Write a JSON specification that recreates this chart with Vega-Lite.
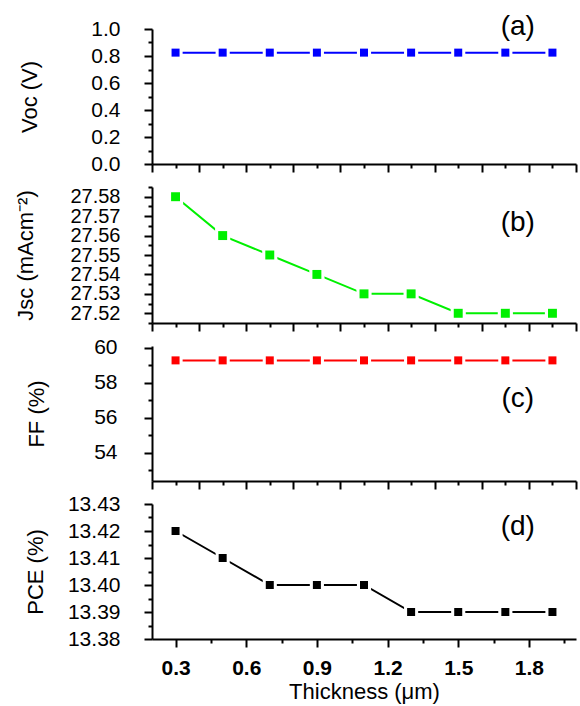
{
  "$schema": "https://vega.github.io/schema/vega-lite/v6.json",
  "padding": {"left": 14, "top": 12, "right": 2, "bottom": 3},
  "background": "white",
  "bounds": "flush",
  "datasets": {
    "main": [
      {"t": 0.3, "voc": 0.825, "jsc": 27.58, "ff": 59.28, "pce": 13.42},
      {"t": 0.5, "voc": 0.825, "jsc": 27.56, "ff": 59.28, "pce": 13.41},
      {"t": 0.7, "voc": 0.825, "jsc": 27.55, "ff": 59.28, "pce": 13.40},
      {"t": 0.9, "voc": 0.825, "jsc": 27.54, "ff": 59.28, "pce": 13.40},
      {"t": 1.1, "voc": 0.825, "jsc": 27.53, "ff": 59.28, "pce": 13.40},
      {"t": 1.3, "voc": 0.825, "jsc": 27.53, "ff": 59.28, "pce": 13.39},
      {"t": 1.5, "voc": 0.825, "jsc": 27.52, "ff": 59.28, "pce": 13.39},
      {"t": 1.7, "voc": 0.825, "jsc": 27.52, "ff": 59.28, "pce": 13.39},
      {"t": 1.9, "voc": 0.825, "jsc": 27.52, "ff": 59.28, "pce": 13.39}
    ]
  },
  "config": {
    "view": {"stroke": null},
    "axis": {
      "grid": false,
      "domainColor": "black",
      "domainWidth": 2,
      "tickColor": "black",
      "tickWidth": 2,
      "labelColor": "black",
      "titleColor": "black",
      "labelFont": "Liberation Sans",
      "titleFont": "Liberation Sans",
      "labelFontSize": 21,
      "titleFontSize": 22,
      "titleFontWeight": "normal",
      "labelOverlap": false,
      "labelFlush": false,
      "labelBound": false
    },
    "text": {"font": "Liberation Sans"}
  },
  "vconcat": [
    {
      "width": 424,
      "height": 135,
      "data": {"name": "main"},
      "encoding": {
        "x": {"field": "t", "type": "quantitative",
          "scale": {"domain": [0.2, 2.0], "nice": false, "zero": false},
          "axis": {"values": [0.2,0.3,0.4,0.5,0.6,0.7,0.8,0.9,1.0,1.1,1.2,1.3,1.4,1.5,1.6,1.7,1.8,1.9,2.0],
            "labels": false, "title": null,
            "tickSize": {"condition": {"test": "round(datum.value*10)%2==0", "value": 8}, "value": 4}}},
        "y": {"field": "voc", "type": "quantitative",
          "scale": {"domain": [0, 1.0], "nice": false, "zero": false},
          "axis": {"values": [0,0.1,0.2,0.3,0.4,0.5,0.6,0.7,0.8,0.9,1.0],
            "labelExpr": "round(datum.value*10)%2==0 ? format(datum.value,'.1f') : ''",
            "tickSize": {"condition": {"test": "round(datum.value*10)%2==0", "value": 8}, "value": 4},
            "labelPadding": 24,
            "minExtent": 110, "maxExtent": 110,
            "title": "Voc (V)", "titleX": -123, "titleBaseline": "middle"}}
      },
      "layer": [
        {"mark": {"type": "line", "color": "#0000ff", "strokeWidth": 2}},
        {"mark": {"type": "point", "shape": "square", "filled": true, "color": "white", "opacity": 1, "size": 200}},
        {"mark": {"type": "point", "shape": "square", "filled": true, "color": "#0000ff", "opacity": 1, "size": 64}},
        {"data": {"values": [{"t": 1.753, "voc": 1.015, "lab": "(a)"}]},
          "mark": {"type": "text", "fontSize": 28, "color": "black", "clip": false, "baseline": "middle"},
          "encoding": {"text": {"field": "lab"}}}
      ]
    },
    {
      "width": 424,
      "height": 136,
      "data": {"name": "main"},
      "encoding": {
        "x": {"field": "t", "type": "quantitative",
          "scale": {"domain": [0.2, 2.0], "nice": false, "zero": false},
          "axis": {"values": [0.2,0.3,0.4,0.5,0.6,0.7,0.8,0.9,1.0,1.1,1.2,1.3,1.4,1.5,1.6,1.7,1.8,1.9,2.0],
            "labels": false, "title": null,
            "tickSize": {"condition": {"test": "round(datum.value*10)%2==0", "value": 8}, "value": 4}}},
        "y": {"field": "jsc", "type": "quantitative",
          "scale": {"domain": [27.515, 27.585], "nice": false, "zero": false},
          "axis": {"values": [27.515,27.52,27.525,27.53,27.535,27.54,27.545,27.55,27.555,27.56,27.565,27.57,27.575,27.58,27.585],
            "labelExpr": "round(datum.value*1000)%10==0 ? format(datum.value,'.2f') : ''",
            "tickSize": {"condition": {"test": "round(datum.value*1000)%10==0", "value": 8}, "value": 4},
            "labelPadding": 24,
            "labelFontSize": 20,
            "minExtent": 110, "maxExtent": 110,
            "title": "Jsc (mAcm⁻²)", "titleX": -127, "titleBaseline": "middle"}}
      },
      "layer": [
        {"mark": {"type": "line", "color": "#00f000", "strokeWidth": 2}},
        {"mark": {"type": "point", "shape": "square", "filled": true, "color": "white", "opacity": 1, "size": 230}},
        {"mark": {"type": "point", "shape": "square", "filled": true, "color": "#00f000", "opacity": 1, "size": 80}},
        {"data": {"values": [{"t": 1.753, "jsc": 27.5665, "lab": "(b)"}]},
          "mark": {"type": "text", "fontSize": 28, "color": "black", "clip": false, "baseline": "middle"},
          "encoding": {"text": {"field": "lab"}}}
      ]
    },
    {
      "width": 424,
      "height": 135,
      "data": {"name": "main"},
      "encoding": {
        "x": {"field": "t", "type": "quantitative",
          "scale": {"domain": [0.2, 2.0], "nice": false, "zero": false},
          "axis": {"values": [0.2,0.3,0.4,0.5,0.6,0.7,0.8,0.9,1.0,1.1,1.2,1.3,1.4,1.5,1.6,1.7,1.8,1.9,2.0],
            "labels": false, "title": null,
            "tickSize": {"condition": {"test": "round(datum.value*10)%2==0", "value": 8}, "value": 4}}},
        "y": {"field": "ff", "type": "quantitative",
          "scale": {"domain": [52.4, 60.1], "nice": false, "zero": false},
          "axis": {"values": [53,54,55,56,57,58,59,60],
            "labelExpr": "datum.value%2==0 ? format(datum.value,'d') : ''",
            "tickSize": {"condition": {"test": "datum.value%2==0", "value": 8}, "value": 4},
            "labelPadding": 27,
            "minExtent": 110, "maxExtent": 110,
            "title": "FF (%)", "titleX": -116, "titleBaseline": "middle"}}
      },
      "layer": [
        {"mark": {"type": "line", "color": "#ff0000", "strokeWidth": 2}},
        {"mark": {"type": "point", "shape": "square", "filled": true, "color": "white", "opacity": 1, "size": 200}},
        {"mark": {"type": "point", "shape": "square", "filled": true, "color": "#ff0000", "opacity": 1, "size": 64}},
        {"data": {"values": [{"t": 1.753, "ff": 57.1, "lab": "(c)"}]},
          "mark": {"type": "text", "fontSize": 28, "color": "black", "clip": false, "baseline": "middle"},
          "encoding": {"text": {"field": "lab"}}}
      ]
    },
    {
      "width": 424,
      "height": 135,
      "data": {"name": "main"},
      "encoding": {
        "x": {"field": "t", "type": "quantitative",
          "scale": {"domain": [0.2, 2.0], "nice": false, "zero": false},
          "axis": {"values": [0.3,0.45,0.6,0.75,0.9,1.05,1.2,1.35,1.5,1.65,1.8,1.95],
            "labelExpr": "round(datum.value*100)%30==0 ? format(datum.value,'.1f') : ''",
            "labelFontWeight": "bold",
            "labelPadding": 10,
            "tickSize": {"condition": {"test": "round(datum.value*100)%30==0", "value": 8}, "value": 4},
            "title": "Thickness (μm)", "titlePadding": 3}},
        "y": {"field": "pce", "type": "quantitative",
          "scale": {"domain": [13.38, 13.43], "nice": false, "zero": false},
          "axis": {"values": [13.38,13.385,13.39,13.395,13.40,13.405,13.41,13.415,13.42,13.425,13.43],
            "labelExpr": "round(datum.value*1000)%10==0 ? format(datum.value,'.2f') : ''",
            "tickSize": {"condition": {"test": "round(datum.value*1000)%10==0", "value": 8}, "value": 4},
            "labelPadding": 24,
            "minExtent": 110, "maxExtent": 110,
            "title": "PCE (%)", "titleX": -117, "titleBaseline": "middle"}}
      },
      "layer": [
        {"mark": {"type": "line", "color": "black", "strokeWidth": 2}},
        {"mark": {"type": "point", "shape": "square", "filled": true, "color": "white", "opacity": 1, "size": 200}},
        {"mark": {"type": "point", "shape": "square", "filled": true, "color": "black", "opacity": 1, "size": 64}},
        {"data": {"values": [{"t": 1.753, "pce": 13.4215, "lab": "(d)"}]},
          "mark": {"type": "text", "fontSize": 28, "color": "black", "clip": false, "baseline": "middle"},
          "encoding": {"text": {"field": "lab"}}}
      ]
    }
  ],
  "spacing": 23
}
